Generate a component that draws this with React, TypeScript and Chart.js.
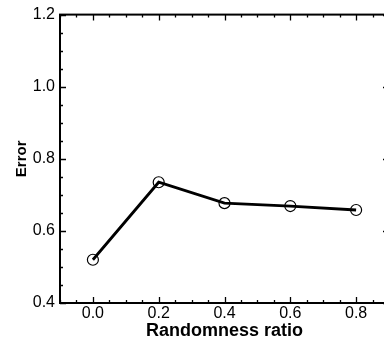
import React, { useEffect, useRef } from "react";
import { Chart, registerables } from "chart.js";

Chart.register(...registerables);

const ratios = [0.0, 0.2, 0.4, 0.6, 0.8];
const errors = [0.52, 0.735, 0.677, 0.669, 0.658];
const xMajorTicks = [0.0, 0.2, 0.4, 0.6, 0.8];
const yMajorTicks = [0.4, 0.6, 0.8, 1.0, 1.2];
const xRange = [-0.1, 0.9];
const yRange = [0.4, 1.2];
const minorStep = 0.05;
const xTitle = "Randomness ratio";
const yTitle = "Error";

const FONT = "Arial, 'Liberation Sans', Helvetica, sans-serif";

const frameTicks = {
  id: "frameTicks",
  afterDraw(chart: any) {
    const { ctx, chartArea } = chart;
    const xs = chart.scales.x;
    const ys = chart.scales.y;
    const { left, right, top, bottom } = chartArea;
    ctx.save();
    ctx.strokeStyle = "#000";
    ctx.lineWidth = 2;
    ctx.strokeRect(left, top, right - left, bottom - top);
    ctx.lineWidth = 1.3;
    const near = (v: number, arr: number[]) => arr.some((a) => Math.abs(a - v) < 1e-6);
    const nx = Math.round((xRange[1] - xRange[0]) / minorStep);
    for (let i = 0; i <= nx; i++) {
      const v = xRange[0] + i * minorStep;
      const len = near(v, xMajorTicks) ? 6 : 3;
      const px = Math.round(xs.getPixelForValue(v)) + 0.5;
      ctx.beginPath();
      ctx.moveTo(px, bottom);
      ctx.lineTo(px, bottom - len);
      ctx.moveTo(px, top);
      ctx.lineTo(px, top + len);
      ctx.stroke();
    }
    const ny = Math.round((yRange[1] - yRange[0]) / minorStep);
    for (let i = 0; i <= ny; i++) {
      const v = yRange[0] + i * minorStep;
      const len = near(v, yMajorTicks) ? 6 : 3;
      const py = Math.round(ys.getPixelForValue(v)) + 0.5;
      ctx.beginPath();
      ctx.moveTo(left, py);
      ctx.lineTo(left + len, py);
      ctx.moveTo(right, py);
      ctx.lineTo(right - len, py);
      ctx.stroke();
    }
    ctx.restore();
  },
};

export default function App() {
  const ref = useRef<HTMLCanvasElement>(null);
  useEffect(() => {
    document.body.style.margin = "0";
    const chart = new Chart(ref.current!, {
      type: "line",
      data: {
        datasets: [
          {
            data: ratios.map((r, i) => ({ x: r, y: errors[i] })),
            borderColor: "#000",
            borderWidth: 2.8,
            pointRadius: 5.5,
            pointBorderWidth: 1.2,
            pointBorderColor: "#000",
            pointBackgroundColor: "rgba(0,0,0,0)",
            tension: 0,
          },
        ],
      },
      options: {
        responsive: false,
        animation: false,
        layout: { padding: { top: 12, right: 11, left: 0, bottom: 0 } },
        plugins: { legend: { display: false }, tooltip: { enabled: false } },
        scales: {
          x: {
            type: "linear",
            min: xRange[0],
            max: xRange[1],
            afterBuildTicks: (s: any) => {
              s.ticks = xMajorTicks.map((v) => ({ value: v }));
            },
            afterFit: (s: any) => {
              s.height = 39;
            },
            grid: { display: false, drawTicks: false },
            border: { display: false },
            ticks: {
              color: "#000",
              padding: 1,
              maxRotation: 0,
              font: { family: FONT, size: 16 },
              callback: (v: any) => Number(v).toFixed(1),
            },
            title: {
              display: true,
              text: xTitle,
              color: "#000",
              font: { family: FONT, size: 18, weight: "bold" },
              padding: { top: 0, bottom: 0 },
            },
          },
          y: {
            type: "linear",
            min: yRange[0],
            max: yRange[1],
            afterBuildTicks: (s: any) => {
              s.ticks = yMajorTicks.map((v) => ({ value: v }));
            },
            afterFit: (s: any) => {
              s.width = 60;
            },
            grid: { display: false, drawTicks: false },
            border: { display: false },
            ticks: {
              color: "#000",
              padding: 5,
              font: { family: FONT, size: 16 },
              callback: (v: any) => Number(v).toFixed(1),
            },
            title: {
              display: true,
              text: yTitle,
              color: "#000",
              font: { family: FONT, size: 15, weight: "bold" },
              padding: { top: 13, bottom: 0 },
            },
          },
        },
      },
      plugins: [frameTicks],
    });
    return () => chart.destroy();
  }, []);
  return (
    <div style={{ position: "fixed", left: 0, top: 0, width: 384, height: 342, overflow: "hidden", background: "#fff" }}>
      <canvas ref={ref} width={400} height={342} />
    </div>
  );
}
